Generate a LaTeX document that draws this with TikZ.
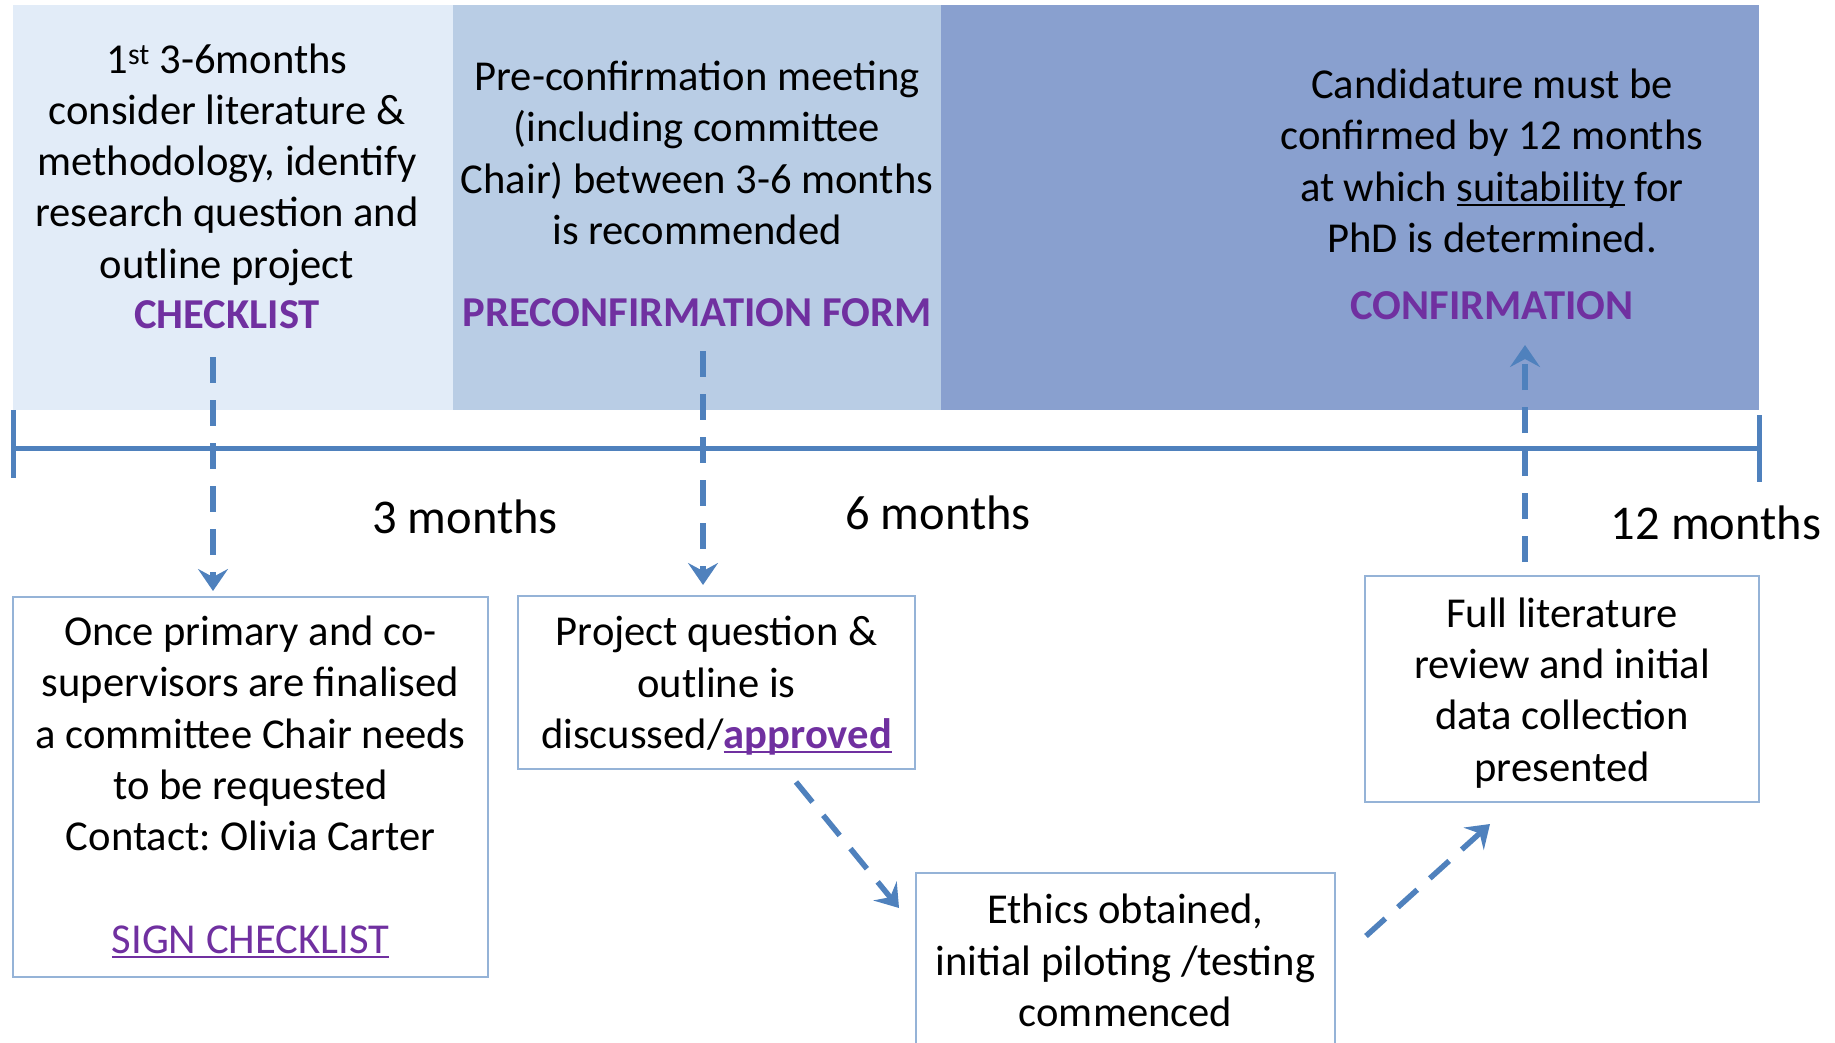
\documentclass[tikz,border=0pt]{standalone}
\usepackage{fontspec}
\setmainfont{Carlito}
\usetikzlibrary{arrows.meta}
\definecolor{pone}{HTML}{E2ECF8}
\definecolor{ptwo}{HTML}{B9CDE5}
\definecolor{pthree}{HTML}{89A0CF}
\definecolor{lblue}{HTML}{4F81BD}
\definecolor{bord}{HTML}{95B3D7}
\definecolor{purp}{HTML}{7030A0}
\newcommand\myul[1]{\setbox0\hbox{#1}\rlap{\rule[-5pt]{\wd0}{2.5pt}}\box0\relax}
\frenchspacing
\begin{document}
\begin{tikzpicture}[x=1pt,y=-1pt,
  txt/.style={font=\fontsize{42.6}{51.3}\selectfont, align=center, inner sep=0pt},
  mtxt/.style={font=\fontsize{48.5}{58}\selectfont, align=center, inner sep=0pt},
  btxt/.style={font=\fontsize{42.6}{51.3}\selectfont\bfseries, text=purp, align=center, inner sep=0pt},
  box/.style={txt, draw=bord, line width=2pt},
  tl/.style={draw=lblue, line width=5pt},
  dasharrow/.style={draw=lblue, line width=5.5pt, dash pattern=on 26pt off 17pt, -{Stealth[length=22pt,width=30pt,inset=8pt]}}]
\useasboundingbox (0,0) rectangle (1835,1043);
% panels
\fill[pone] (13,5) rectangle (453,410);
\fill[ptwo] (453,5) rectangle (941,410);
\fill[pthree] (941,5) rectangle (1759,410);
% timeline
\coordinate (tlL) at (13,448);
\coordinate (tlR) at (1759,448);
\coordinate (tkLa) at (13,410);
\coordinate (tkLb) at (13,478);
\coordinate (tkRa) at (1759,415);
\coordinate (tkRb) at (1759,482);
\draw[tl] (tlL) -- (tlR);
\draw[tl] (tkLa) -- (tkLb);
\draw[tl] (tkRa) -- (tkRb);
% panel texts
\node[txt] (t1) at (227,164.5) {1\textsuperscript{st} 3-6months\\consider literature \&\\methodology, identify\\research question and\\outline project};
\node[btxt] (f1) at (227,315) {CHECKLIST};
\node[txt] (t2) at (697,153) {Pre-confirmation meeting\\(including committee\\Chair) between 3-6 months\\is recommended};
\node[btxt] (f2) at (697,312.5) {PRECONFIRMATION FORM};
\node[txt] (t3) at (1492,161) {Candidature must be\\confirmed by 12 months\\at which \myul{suitability} for\\PhD is determined.};
\node[btxt] (f3) at (1492,305.5) {CONFIRMATION};
% month labels
\node[mtxt] (m3) at (465,517) {3 months};
\node[mtxt] (m6) at (938,513) {6 months};
\node[mtxt] (m12) at (1716,523) {12 months};
% boxes
\node[box, minimum width=475pt, minimum height=380pt] (b1) at (250.5,787) {Once primary and co-\\supervisors are finalised\\a committee Chair needs\\to be requested\\Contact: Olivia Carter\\[51.3pt]\textcolor{purp}{\myul{SIGN CHECKLIST}}};
\node[box, minimum width=397pt, minimum height=173pt] (b2) at (716.5,682.5) {\rule{0pt}{36pt}Project question \&\\outline is\\discussed/\textcolor{purp}{\bfseries\myul{approved}}};
\node[box, minimum width=419pt, minimum height=175pt] (b3) at (1125.5,960.5) {Ethics obtained,\\initial piloting /testing\\commenced};
\node[box, minimum width=394pt, minimum height=226pt] (b4) at (1562,689) {\rule{0pt}{37pt}Full literature\\review and initial\\data collection\\presented};
% arrows
\coordinate (a1s) at (213,357);
\coordinate (a1e) at (213,591);
\coordinate (a2s) at (703,351);
\coordinate (a2e) at (703,585);
\coordinate (a3s) at (1525,562);
\coordinate (a3e) at (1525,345);
\coordinate (d1s) at (796,782);
\coordinate (d1e) at (899,908);
\coordinate (d2s) at (1366,936);
\coordinate (d2e) at (1490,824);
\draw[dasharrow] (a1s) -- (a1e);
\draw[dasharrow] (a2s) -- (a2e);
\draw[dasharrow] (a3s) -- (a3e);
\draw[dasharrow] (d1s) -- (d1e);
\draw[dasharrow] (d2s) -- (d2e);
\end{tikzpicture}
\end{document}
